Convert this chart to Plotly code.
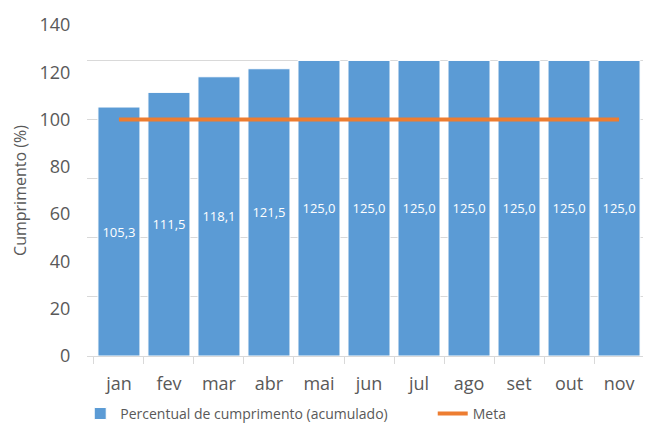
import plotly.graph_objects as go

months = ["jan", "fev", "mar", "abr", "mai", "jun", "jul", "ago", "set", "out", "nov"]
cumprimento = [105.3, 111.5, 118.1, 121.5, 125.0, 125.0, 125.0, 125.0, 125.0, 125.0, 125.0]
meta = [100] * len(months)
y_ticks = [0, 20, 40, 60, 80, 100, 120, 140]

labels = [f"{v:.1f}".replace(".", ",") for v in cumprimento]

fig = go.Figure()
fig.add_trace(go.Bar(
    x=months, y=cumprimento, name="Percentual de cumprimento (acumulado)",
    marker=dict(color="#5B9BD5", line=dict(color="white", width=1)),
    text=labels, textposition="inside", insidetextanchor="middle",
    textfont=dict(color="white", size=13, family="Open Sans"),
    textangle=0, legend="legend",
))
fig.add_trace(go.Scatter(
    x=months, y=meta, name="Meta", mode="lines",
    line=dict(color="#ED7D31", width=4), legend="legend2",
))
fig.add_trace(go.Scatter(x=months, y=[None]*len(months), yaxis="y2", showlegend=False,
                         hoverinfo="skip"))

leg_common = dict(orientation="h", yanchor="middle", y=-0.175, xanchor="left",
                  font=dict(size=14, color="#595959"), bgcolor="rgba(0,0,0,0)")

fig.update_layout(
    width=651, height=426,
    margin=dict(l=79, r=8, t=17, b=78, autoexpand=False),
    paper_bgcolor="white", plot_bgcolor="rgba(0,0,0,0)",
    bargap=0.16,
    font=dict(family="Open Sans", color="#595959"),
    xaxis=dict(
        showline=True, linecolor="#D9D9D9", linewidth=1,
        ticks="outside", tickson="boundaries", ticklen=7, tickcolor="#D9D9D9",
        tickfont=dict(size=18, color="#595959"), showgrid=False,
        ticklabelstandoff=11, automargin=False,
    ),
    yaxis=dict(
        range=[0, 140], tickvals=y_ticks, showgrid=False, zeroline=False,
        tickfont=dict(size=18, color="#595959"),
        title=dict(text="Cumprimento (%)", font=dict(size=16, color="#595959"), standoff=8),
        ticks="outside", ticklen=0, ticklabelstandoff=12, automargin=False,
    ),
    yaxis2=dict(
        range=[0, 140], dtick=25, tick0=0, overlaying="y", showgrid=True,
        gridcolor="#D9D9D9", gridwidth=1, showticklabels=False, zeroline=False,
        layer="below traces", automargin=False,
    ),
    legend=dict(x=-0.012, **leg_common),
    legend2=dict(x=0.613, **leg_common),
)

fig.write_html("out.html")
